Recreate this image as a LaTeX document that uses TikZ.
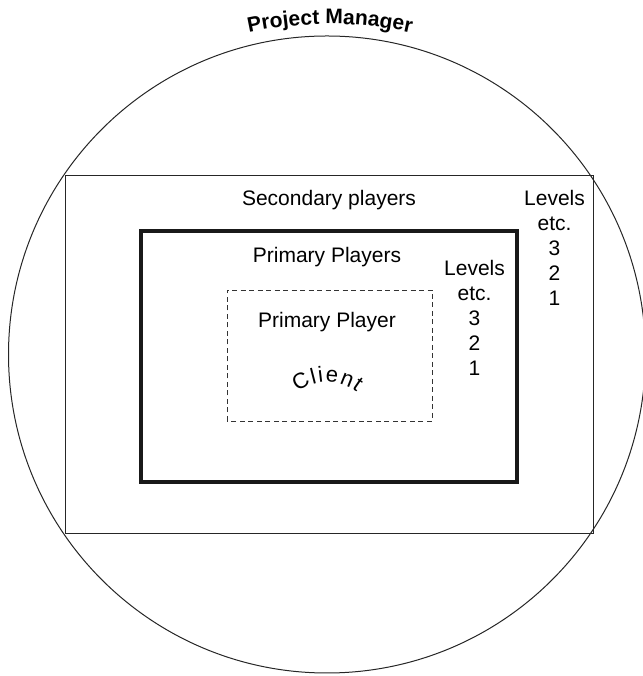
\documentclass[tikz,border=0pt]{standalone}
\usepackage{fontspec}
\setmainfont{Liberation Sans}
\usetikzlibrary{decorations.text}
\newcommand\lblfont{\fontsize{21}{25}\selectfont}
\newcommand\clfont{\fontsize{22}{25}\selectfont}
\newcommand\pmfont{\fontsize{21}{25}\selectfont\bfseries}
\begin{document}
\begin{tikzpicture}[x=1pt,y=1pt,
  thinline/.style={line width=1pt,draw=black!85},
  thickline/.style={line width=4pt,draw=black!90},
  dashline/.style={line width=0.9pt,draw=black!80,dash pattern=on 5pt off 3.5pt},
  lbl/.style={font=\lblfont,inner sep=0pt,align=center}]
\useasboundingbox (0,0) rectangle (642,676);
\draw[thinline] (327,321.5) circle[radius=318.5pt];
\draw[thinline] (65,142) rectangle (593,500);
\draw[thickline] (141,194) rectangle (517,445);
\draw[dashline] (227,255) rectangle (432,386);
\node[lbl] (sec) at (329,476) {Secondary players};
\node[lbl] (lev1) at (554.5,428) {Levels\\etc.\\3\\2\\1};
\node[lbl] (prim) at (327,419) {Primary Players};
\node[lbl] (lev2) at (474.5,358) {Levels\\etc.\\3\\2\\1};
\node[lbl] (pp) at (327,354) {Primary Player};
\path[decorate,decoration={text along path,text align=center,text={|\pmfont|Project Manager}}]
  (330,272) ++(102.5:380pt) arc[start angle=102.5,end angle=77.5,radius=380pt];
\path[decorate,decoration={text along path,text align={fit to path},text={|\clfont|Client}}]
  (327,246) ++(128:48pt) arc[start angle=128,end angle=52,radius=48pt];
\end{tikzpicture}
\end{document}
